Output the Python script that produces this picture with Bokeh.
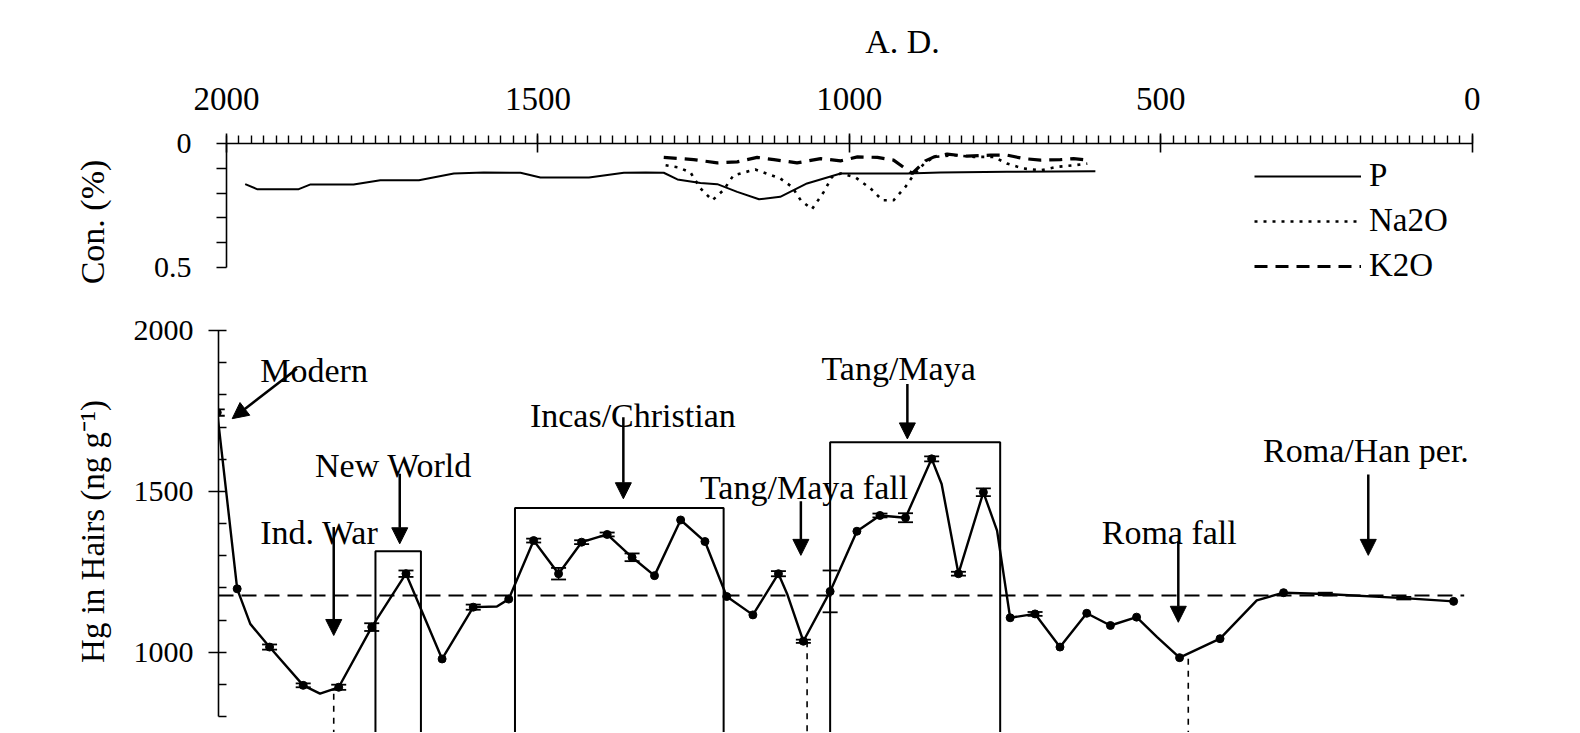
from bokeh.plotting import figure
from bokeh.layouts import column, row
from bokeh.models import (Range1d, FixedTicker, Legend, LegendItem, Arrow, NormalHead,
                          ColumnDataSource, Whisker, TeeHead, Spacer)
from bokeh.core.properties import value
from bokeh.embed import file_html
from bokeh.resources import INLINE

FONT = "Liberation Serif"

# ---------------- data: upper panel (concentration, %) ----------------
p_year = [1970, 1951, 1884, 1865, 1796, 1753, 1691, 1635, 1587, 1528, 1496, 1418, 1362, 1327,
          1298, 1276, 1239, 1212, 1180, 1145, 1111, 1068, 1014, 907, 854, 747, 605]
p_con = [0.164, 0.184, 0.184, 0.165, 0.165, 0.148, 0.148, 0.121, 0.117, 0.118, 0.137, 0.137, 0.118,
         0.117, 0.118, 0.145, 0.159, 0.164, 0.195, 0.225, 0.215, 0.161, 0.121, 0.121, 0.117, 0.114, 0.112]

na_year = [1295, 1274, 1255, 1239, 1220, 1202, 1186, 1151, 1111, 1092, 1078, 1060, 1041, 1028, 1014,
           990, 966, 947, 929, 910, 897, 880, 864, 832, 800, 768, 747, 720, 693, 666, 640, 618]
na_con = [0.088, 0.097, 0.117, 0.181, 0.229, 0.188, 0.128, 0.105, 0.141, 0.175, 0.229, 0.265, 0.195,
          0.135, 0.121, 0.137, 0.181, 0.229, 0.229, 0.175, 0.128, 0.081, 0.054, 0.047, 0.054, 0.054,
          0.081, 0.101, 0.108, 0.094, 0.088, 0.081]

k_year = [1298, 1271, 1250, 1212, 1180, 1148, 1121, 1084, 1046, 1014, 987, 955, 929, 899, 878, 864,
          843, 811, 773, 747, 720, 693, 661, 640, 618]
k_con = [0.056, 0.061, 0.065, 0.078, 0.074, 0.056, 0.065, 0.078, 0.061, 0.070, 0.054, 0.056, 0.067,
         0.121, 0.070, 0.054, 0.043, 0.051, 0.047, 0.047, 0.061, 0.067, 0.065, 0.061, 0.067]

series_names = ["P", "Na2O", "K2O"]
top_major_ticks = [0, 500, 1000, 1500, 2000]
con_ticks = [0, 0.5]
con_minor = [0.1, 0.2, 0.3, 0.4]

# ---------------- data: lower panel (Hg in hairs) ----------------
hg_year = [2002, 1970, 1949, 1918, 1864, 1837, 1807, 1754, 1699, 1641,
           1591, 1553, 1534, 1494, 1454, 1417, 1376, 1336, 1300, 1258,
           1219, 1184, 1142, 1101, 1087, 1061, 1018, 975, 938, 897,
           855, 839, 812, 772, 750, 729, 689, 649, 606, 568,
           526, 493, 457, 392, 333, 290, 223, 97, 17]
hg_val = [1745, 1197, 1088, 1016, 897, 871, 891, 1078, 1244, 979,
          1140, 1142, 1165, 1347, 1244, 1342, 1366, 1295, 1238, 1411,
          1344, 1173, 1116, 1244, 1181, 1034, 1189, 1376, 1425, 1418,
          1601, 1523, 1244, 1497, 1378, 1107, 1119, 1016, 1121, 1083,
          1109, 1047, 983, 1042, 1161, 1185, 1181, 1168, 1158]
hg_err = [10, 0, 0, 8, 6, 0, 8, 12, 10, 0,
          8, 0, 0, 6, 18, 6, 6, 12, 0, 0,
          0, 0, 0, 8, 0, 5, 65, 0, 6, 14,
          8, 0, 6, 12, 0, 0, 6, 0, 0, 0,
          0, 0, 0, 0, 0, 0, 4, 4, 0]
hg_dot = [1, 1, 0, 1, 1, 0, 1, 1, 1, 1,
          1, 0, 1, 1, 1, 1, 1, 1, 1, 1,
          1, 1, 1, 1, 0, 1, 1, 1, 1, 1,
          1, 0, 1, 1, 0, 1, 1, 1, 1, 1,
          1, 0, 1, 1, 0, 1, 0, 0, 1]
hg_mean = 1176
hg_ticks = [1000, 1500, 2000]
hg_minor = [800, 900, 1100, 1200, 1300, 1400, 1600, 1700, 1800, 1900]

# highlighted periods (boxes)
period_start = [1748, 1524, 1018]
period_end = [1675, 1189, 745]
period_top = [1314, 1448, 1653]

# dashed drop lines under minima
drop_year = [1815, 1055, 443]
drop_from = [871, 1034, 980]

# event labels
ann_text = ["Modern", "New World", "Ind. War", "Incas/Christian", "Tang/Maya fall",
            "Tang/Maya", "Roma fall", "Roma/Han per."]
ann_year = [1933, 1845, 1933, 1500, 1227, 1032, 582, 323]
ann_val = [1876, 1580, 1373, 1736, 1513, 1881, 1373, 1627]

# event arrows
arr_year0 = [1874, 1709, 1815, 1350, 1065, 894, 459, 154]
arr_val0 = [1881, 1555, 1389, 1730, 1469, 1834, 1345, 1552]
arr_year1 = [1978, 1709, 1815, 1350, 1065, 894, 459, 154]
arr_val1 = [1726, 1337, 1052, 1477, 1301, 1663, 1093, 1301]

# ---------------- layout constants ----------------
PX_PER_YEAR = 1245.7 / 2000.0
W = 1578
TOP_H = 300
BOT_H = 432
LEFT = 218
TOP_SHIFT = 8          # upper panel sits 8 px right of the lower one


def style_common(p):
    p.grid.visible = False
    p.outline_line_color = None
    p.background_fill_color = "white"
    p.border_fill_color = "white"


def style_axis(a, label_size, tick_size):
    a.axis_label_text_font = FONT
    a.axis_label_text_font_size = label_size
    a.axis_label_text_font_style = "normal"
    a.axis_label_text_color = "black"
    a.major_label_text_font = FONT
    a.major_label_text_font_size = tick_size
    a.major_label_text_color = "black"
    a.axis_line_color = "black"
    a.major_tick_line_color = "black"
    a.minor_tick_line_color = "black"
    a.axis_line_width = 1.6
    a.major_tick_line_width = 1.6
    a.minor_tick_line_width = 1.4


# ---------------- top figure ----------------
TOP_W = W - TOP_SHIFT
top_frame_w = TOP_W - LEFT
top = figure(width=TOP_W, height=TOP_H, output_backend="svg", toolbar_location=None,
             x_range=Range1d(2000, 2000 - top_frame_w / PX_PER_YEAR),
             y_range=Range1d(157 / 248.0, 0),
             x_axis_location="above",
             min_border_left=LEFT, min_border_top=143, min_border_bottom=0, min_border_right=0)
style_common(top)

r_p = top.line(p_year, p_con, line_color="black", line_width=2)
r_na = top.line(na_year, na_con, line_color="black", line_width=2.6, line_dash="3 6")
r_k = top.line(k_year, k_con, line_color="black", line_width=3.2, line_dash="13 8")

ax = top.xaxis[0]
ax.ticker = FixedTicker(ticks=top_major_ticks, minor_ticks=list(range(0, 2001, 20)))
ax.bounds = (0, 2000)
ax.axis_label = "A. D."
style_axis(ax, "34px", "33px")
ax.axis_label_standoff = 25
ax.major_label_standoff = 24
ax.major_tick_out = 10
ax.major_tick_in = 9
ax.minor_tick_out = 8
ax.minor_tick_in = 0

ay = top.yaxis[0]
ay.ticker = FixedTicker(ticks=con_ticks, minor_ticks=con_minor)
ay.bounds = (0, 0.5)
ay.major_label_overrides = {0: "0", 0.5: "0.5"}
ay.axis_label = "Con. (%)"
style_axis(ay, "34px", "30px")
ay.axis_label_standoff = 40
ay.major_label_standoff = 25
ay.major_tick_out = 10
ay.major_tick_in = 0
ay.minor_tick_out = 10
ay.minor_tick_in = 0
ay.minor_tick_line_width = 1.6

legend = Legend(items=[LegendItem(label=series_names[0], renderers=[r_p]),
                       LegendItem(label=series_names[1], renderers=[r_na]),
                       LegendItem(label=series_names[2], renderers=[r_k])],
                location=(1028, 16), orientation="vertical",
                glyph_width=107, glyph_height=30, label_height=30, spacing=8,
                padding=0, margin=0, label_standoff=8,
                label_text_font=FONT, label_text_font_size="33px", label_text_color="black",
                border_line_color=None, background_fill_alpha=0)
top.add_layout(legend)

# ---------------- bottom figure ----------------
bot_frame_w = W - LEFT
px_per_hg = 0.3217
bot = figure(width=W, height=BOT_H, output_backend="svg", toolbar_location=None,
             x_range=Range1d(2000, 2000 - bot_frame_w / PX_PER_YEAR),
             y_range=Range1d(2000 - (BOT_H - 30) / px_per_hg, 2000),
             x_axis_location=None,
             min_border_left=LEFT, min_border_top=30, min_border_bottom=0, min_border_right=0)
style_common(bot)

by = bot.yaxis[0]
by.ticker = FixedTicker(ticks=hg_ticks, minor_ticks=hg_minor)
by.bounds = (800, 2000)
by.axis_label = "Hg in Hairs (ng g\u207b\u00b9)"
style_axis(by, "33px", "30px")
by.axis_label_standoff = 20
by.major_label_standoff = 15
by.major_tick_out = 10
by.major_tick_in = 8
by.minor_tick_out = 0
by.minor_tick_in = 8
by.minor_tick_line_width = 1.6

below = min(hg_minor) - 300

# mean level
bot.segment(x0=[2000], y0=[hg_mean], x1=[0], y1=[hg_mean], line_color="black",
            line_width=2, line_dash="15 8")

# period boxes
bot.quad(left=period_start, right=period_end, top=period_top, bottom=[below] * len(period_top),
         fill_alpha=0, line_color="black", line_width=2)

# drop lines
bot.segment(x0=drop_year, y0=drop_from, x1=drop_year, y1=[below] * len(drop_year),
            line_color="black", line_width=1.6, line_dash="6 6")

# Hg curve
bot.line(hg_year, hg_val, line_color="black", line_width=2.4)
dots = ColumnDataSource(dict(x=[y for y, d in zip(hg_year, hg_dot) if d],
                             y=[v for v, d in zip(hg_val, hg_dot) if d]))
bot.scatter("x", "y", source=dots, size=8, color="black")

eb = ColumnDataSource(dict(base=[y for y, e in zip(hg_year, hg_err) if e],
                           upper=[v + e for v, e in zip(hg_val, hg_err) if e],
                           lower=[v - e for v, e in zip(hg_val, hg_err) if e]))
bot.add_layout(Whisker(source=eb, base="base", upper="upper", lower="lower", dimension="height",
                       line_color="black", line_width=1.5,
                       upper_head=TeeHead(size=15, line_width=1.8, line_color="black"),
                       lower_head=TeeHead(size=15, line_width=1.8, line_color="black")))

# arrows
arr = ColumnDataSource(dict(x0=arr_year0, y0=arr_val0, x1=arr_year1, y1=arr_val1))
bot.add_layout(Arrow(source=arr, x_start="x0", y_start="y0", x_end="x1", y_end="y1",
                     line_color="black", line_width=2.5,
                     end=NormalHead(size=16, fill_color="black", line_color="black", line_width=1)))

# labels
ann = ColumnDataSource(dict(x=ann_year, y=ann_val, t=ann_text))
bot.text(x="x", y="y", text="t", source=ann, text_font=value(FONT), text_font_size="34px",
         text_align="left", text_baseline="alphabetic", text_color="black")

page = column(row(Spacer(width=TOP_SHIFT, height=TOP_H), top, spacing=0), bot, spacing=0)
open("out.html", "w").write(file_html(page, INLINE))
